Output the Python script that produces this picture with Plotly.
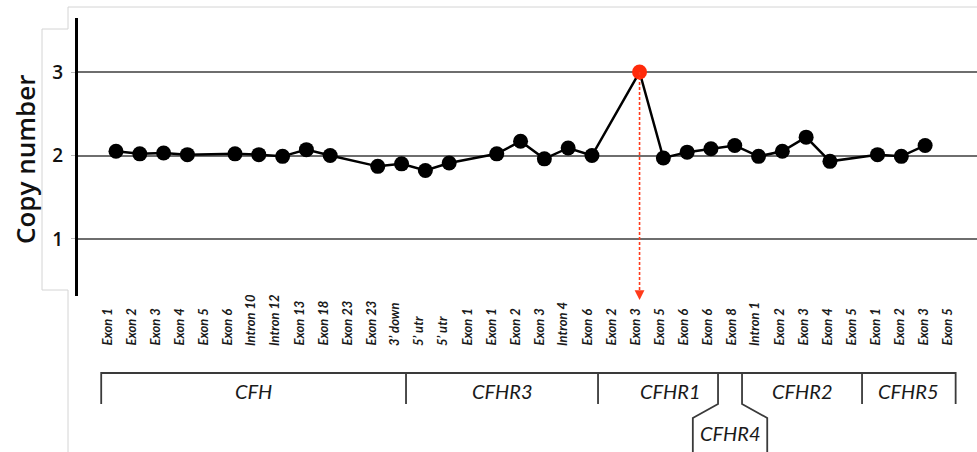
import plotly.graph_objects as go

# Probe labels along the CFH–CFHR5 region (one per probe position)
probe_labels = [
    "Exon 1", "Exon 2", "Exon 3", "Exon 4", "Exon 5", "Exon 6", "Intron 10", "Intron 12",
    "Exon 13", "Exon 18", "Exon 23", "Exon 23", "3’ down",
    "5’ utr", "5’ utr", "Exon 1", "Exon 1", "Exon 2", "Exon 3", "Intron 4", "Exon 6",
    "Exon 2", "Exon 3", "Exon 5", "Exon 6", "Exon 6",
    "Exon 8",
    "Intron 1", "Exon 2", "Exon 3", "Exon 4", "Exon 5",
    "Exon 1", "Exon 2", "Exon 3", "Exon 5",
]

# Copy number per probe (None = no measurement)
copy_number = [
    2.05, 2.02, 2.03, 2.01, None, 2.02, 2.01, 1.99, 2.07, 2.00, None, 1.87, 1.90,
    1.82, 1.91, None, 2.02, 2.17, 1.96, 2.09, 2.00,
    None, 3.00, 1.97, 2.04, 2.08,
    2.12,
    1.99, 2.05, 2.22, 1.93, None,
    2.01, 1.99, 2.12, None,
]

highlight_index = 22  # CFHR1 exon 3 duplication

# Gene blocks: first and last probe index of each gene
genes = ["CFH", "CFHR3", "CFHR1", "CFHR4", "CFHR2", "CFHR5"]
gene_first = [0, 13, 21, 26, 27, 32]
gene_last = [12, 20, 25, 26, 31, 35]

y_ticks = [1, 2, 3]
y_range = [0.317, 3.647]

W, H = 977, 452


def px_x(p):
    return p / W


def px_y(p):
    return 1 - p / H


x_idx = list(range(len(probe_labels)))
marker_colors = ["#ff2a0a" if i == highlight_index else "black" for i in x_idx]

fig = go.Figure()
fig.add_trace(go.Scatter(
    x=x_idx, y=copy_number, mode="lines+markers", connectgaps=True,
    line=dict(color="black", width=2.5),
    marker=dict(size=15, color=marker_colors, opacity=1, line=dict(width=0)),
    hoverinfo="skip", showlegend=False,
))

shapes = []
annotations = []

# Dashed pointer from the highlighted probe down to its label
shapes.append(dict(
    type="line", xref="x", yref="y",
    x0=highlight_index, x1=highlight_index,
    y0=copy_number[highlight_index], y1=y_range[0],
    line=dict(color="#ff3a1a", width=1.6, dash="3px,2px"),
))
annotations.append(dict(
    x=highlight_index, y=y_range[0], xref="x", yref="y", text="",
    showarrow=True, ax=0, ay=-10, yshift=-4,
    arrowhead=2, arrowsize=1.4, arrowwidth=1.4, arrowcolor="#ff3a1a",
))

# Rotated probe labels, aligned at their bottom
label_font = dict(family="Lato", size=13, style="italic", weight="bold", color="#1a1a1a")
for i, lab in enumerate(probe_labels):
    annotations.append(dict(
        x=i, y=px_y(348), xref="x2", yref="paper", text=lab,
        showarrow=False, textangle=-90, xanchor="center", yanchor="bottom",
        font=label_font,
    ))

# Gene brackets
y_top, y_tick, y_diag, y_bot = px_y(373), px_y(404), px_y(418), 0.0
left_end = gene_first[0] - 0.2
right_end = gene_last[-1] + 0.4
bounds = [left_end] + [(gene_last[k] + gene_first[k + 1]) / 2 for k in range(len(genes) - 1)] + [right_end]
flare = 1.05
k4 = genes.index("CFHR4")

path = f"M{bounds[0]},{y_tick} L{bounds[0]},{y_top} L{bounds[-1]},{y_top} L{bounds[-1]},{y_tick}"
for k, b in enumerate(bounds[1:-1], start=1):
    if k == k4:
        path += f" M{b},{y_top} L{b},{y_tick} L{b - flare},{y_diag} L{b - flare},{y_bot}"
    elif k == k4 + 1:
        path += f" M{b},{y_top} L{b},{y_tick} L{b + flare},{y_diag} L{b + flare},{y_bot}"
    else:
        path += f" M{b},{y_top} L{b},{y_tick}"
shapes.append(dict(type="path", xref="x2", yref="paper", path=path,
                   line=dict(color="#3a3a3a", width=1.8)))

gene_font = dict(family="Lato", size=20, style="italic", color="#1a1a1a")
for k, g in enumerate(genes):
    if k == k4:
        # dropped label under the notch
        cx = (bounds[k] - flare + bounds[k + 1] + flare) / 2
        cy = px_y(433)
    elif k == k4 - 1:
        # centred over its span up to the next full gene
        cx = (bounds[k] + bounds[k + 2]) / 2
        cy = px_y(391)
    else:
        cx = (bounds[k] + bounds[k + 1]) / 2
        cy = px_y(391)
    annotations.append(dict(x=cx, y=cy, xref="x2", yref="paper", text=g,
                            showarrow=False, xanchor="center", yanchor="middle",
                            font=gene_font))

# Axis title
annotations.append(dict(
    x=px_x(25), y=px_y(160), xref="paper", yref="paper", text="Copy number",
    showarrow=False, textangle=-90, xanchor="center", yanchor="middle",
    font=dict(family="Open Sans", size=26, color="#111111", weight=600),
))

# Light panel frame
frame = (f"M{px_x(977)},{px_y(7)} L{px_x(68)},{px_y(7)} L{px_x(68)},{px_y(29)} "
         f"L{px_x(42)},{px_y(29)} L{px_x(42)},{px_y(290)} L{px_x(68)},{px_y(290)} "
         f"L{px_x(68)},{px_y(452)}")
shapes.append(dict(type="path", xref="paper", yref="paper", path=frame,
                   line=dict(color="#d4d4d4", width=1), layer="below"))

fig.update_layout(
    width=W, height=H,
    margin=dict(l=0, r=0, t=0, b=0),
    paper_bgcolor="white", plot_bgcolor="white",
    xaxis=dict(domain=[px_x(78), 1.0], range=[-1.597, 36.18], visible=False),
    xaxis2=dict(overlaying="x", range=[-1.167, 36.29], visible=False),
    yaxis=dict(
        domain=[px_y(296), px_y(18)], range=y_range,
        tickvals=y_ticks, ticktext=[str(v) for v in y_ticks],
        showgrid=True, gridcolor="#6e6e6e", gridwidth=2,
        zeroline=False, showline=True, linecolor="black", linewidth=3,
        ticks="outside", ticklen=4, tickcolor="#bbbbbb", tickwidth=1,
        ticklabelstandoff=4,
        tickfont=dict(family="Open Sans", size=19, color="#111111", weight=600),
    ),
    shapes=shapes,
    annotations=annotations,
)

fig.write_html("out.html")
